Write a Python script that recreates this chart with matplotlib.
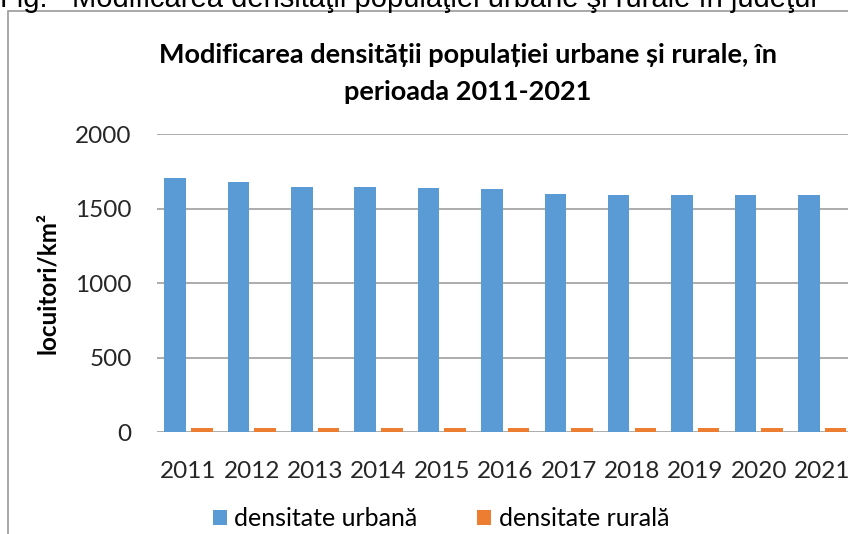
import matplotlib
matplotlib.use("Agg")
import numpy as np
import matplotlib.pyplot as plt
from matplotlib.patches import Rectangle

# Data (locuitori/km2)
YEARS = ["2011", "2012", "2013", "2014", "2015", "2016",
         "2017", "2018", "2019", "2020", "2021"]
URBAN = [1705, 1678, 1646, 1646, 1635, 1628, 1595, 1593, 1593, 1593, 1593]
RURAL = [27, 27, 27, 27, 27, 27, 27, 27, 27, 27, 27]

C_URBAN = "#5B9BD5"
C_RURAL = "#ED7D31"
C_GRID = "#A6A6A6"
FONT = "Lato"

W, H = 848, 534
fig = plt.figure(figsize=(W / 100, H / 100), dpi=100)

# chart frame (partly outside the visible crop)
fig.patches.append(Rectangle((8 / W, -0.2), 1.2, 1 - 11 / H + 0.2,
                             transform=fig.transFigure, fill=False,
                             edgecolor="#9A9A9A", lw=1.2))

# caption above the chart, cut off by the crop like in the source
fig.text(0.0, 1 - 7 / H, "Fig.", fontsize=21, family="Liberation Sans",
         va="baseline", ha="left")
fig.text(72 / W, 1 - 7 / H,
         "Modificarea densităţii populaţiei urbane şi rurale în judeţul",
         fontsize=21, family="Liberation Sans", va="baseline", ha="left")

ax = fig.add_axes([156.8 / W, (H - 432.3) / H, 697 / W, 298.3 / H])
x = np.arange(len(YEARS))
off, bw = 0.21, 0.34
ax.bar(x - off, URBAN, bw, color=C_URBAN, label="densitate urbană", zorder=3)
ax.bar(x + off, RURAL, bw, color=C_RURAL, label="densitate rurală", zorder=3)

ax.set_xlim(-0.5, len(YEARS) - 0.5)
ax.set_ylim(0, 2000)
ax.set_yticks(range(0, 2001, 500))
ax.set_xticks(x)
ax.set_xticklabels(YEARS)
ax.grid(axis="y", color=C_GRID, lw=1.3, zorder=0)
for s in ax.spines.values():
    s.set_visible(False)
ax.tick_params(length=0, labelsize=17.5, colors="#262626")
ax.tick_params(axis="x", pad=21)
ax.tick_params(axis="y", pad=18)
for lab in ax.get_xticklabels() + ax.get_yticklabels():
    lab.set_family(FONT)

ax.set_ylabel("locuitori/km²", fontsize=17.5, fontweight="bold", family=FONT,
              labelpad=12)

fig.text(468 / W, 1 - 55 / H,
         "Modificarea densității populației urbane și rurale, în",
         fontsize=19.5, fontweight="bold", family=FONT, ha="center", va="center")
fig.text(468 / W, 1 - 92 / H, "perioada 2011-2021",
         fontsize=19.5, fontweight="bold", family=FONT, ha="center", va="center")

fig.legend(loc="center", bbox_to_anchor=(441 / W, 1 - 519 / H), ncol=2,
           frameon=False, prop={"family": FONT, "size": 18},
           handlelength=0.55, handleheight=0.55, handletextpad=0.3,
           columnspacing=2.4)

fig.savefig("out.png", dpi=100)
